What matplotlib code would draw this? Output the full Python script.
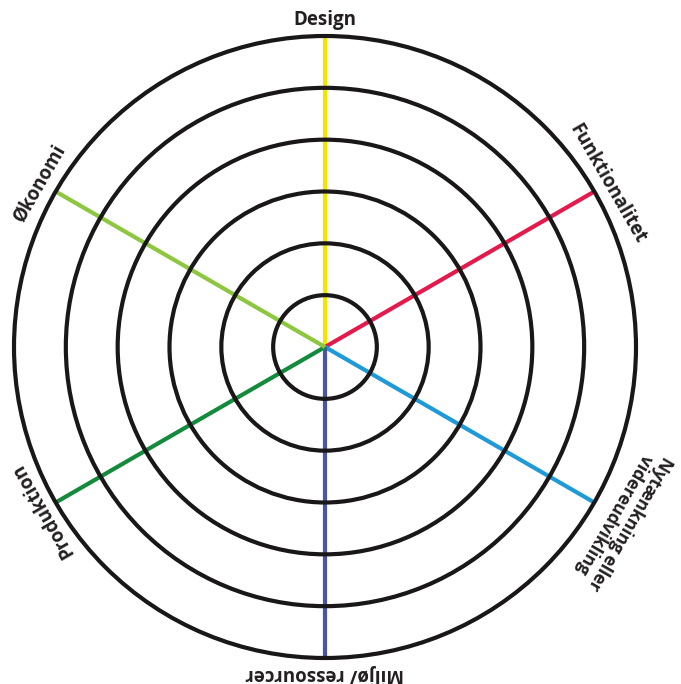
import numpy as np
import matplotlib.pyplot as plt
from matplotlib.patches import Circle

plt.rcParams['font.family'] = ['Open Sans', 'DejaVu Sans']

categories = ['Design', 'Funktionalitet', 'Nytænkning eller\nvidereudvikling',
              'Miljø/ ressourcer', 'Produktion', 'Økonomi']
angles = [90, 30, -30, -90, 210, 150]
colors = ['#f2e600', '#e5194b', '#1f9ad8', '#4756a6', '#138a3c', '#8dc63f']
rings = [1, 2, 3, 4, 5, 6]
label_radius = [6.3, 6.3, 6.62, 6.3, 6.3, 6.35]
label_size = [13.5, 13.5, 12.5, 13.5, 13.5, 13.5]

px = 311 / 6  # pixels per ring unit
fig = plt.figure(figsize=(6.81, 6.84), dpi=100)
ax = fig.add_axes([0, 0, 1, 1])
ax.set_xlim(-325 / px, 356 / px)
ax.set_ylim(-337 / px, 347 / px)
ax.set_aspect('equal')
ax.axis('off')

for cat, a, c, lr, fs in zip(categories, angles, colors, label_radius, label_size):
    th = np.deg2rad(a)
    ax.plot([0, rings[-1] * np.cos(th)], [0, rings[-1] * np.sin(th)],
            color=c, lw=3.0, solid_capstyle='butt', zorder=2)
    ax.text(lr * np.cos(th), lr * np.sin(th), cat, rotation=a - 90,
            ha='center', va='center', fontsize=fs, fontweight='bold',
            color='#231f20', linespacing=1.0, rotation_mode='anchor')

for r in rings:
    ax.add_patch(Circle((0, 0), r, fill=False, ec='#1a1718', lw=3.0, zorder=3))

fig.savefig('out.png', dpi=100, facecolor='white')
